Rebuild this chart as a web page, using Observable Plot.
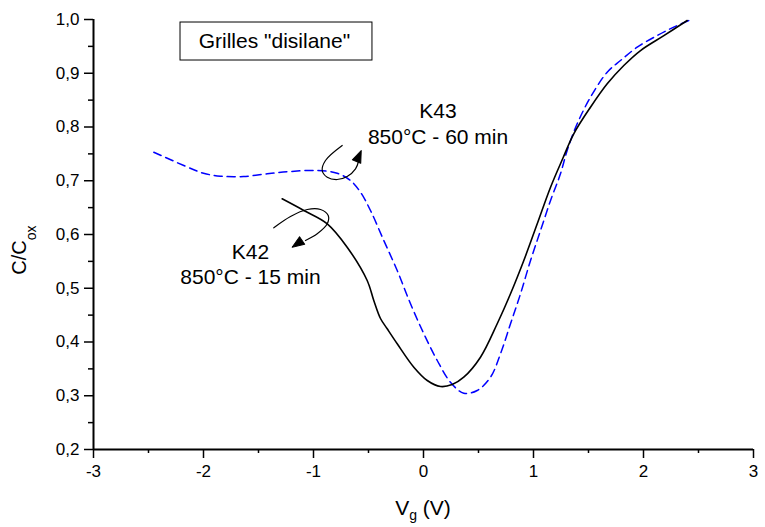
<!DOCTYPE html>
<html><head><meta charset="utf-8">
<script src="https://cdn.jsdelivr.net/npm/d3@7"></script>
<script src="https://cdn.jsdelivr.net/npm/@observablehq/plot@0.6"></script>
<style>body{margin:0;background:#fff;} #chart{width:765px;height:527px;}</style>
</head><body><div id="chart"></div>
<script>
// K42 — 850°C - 15 min (solid black)
const k42Vg = [-1.285,-1.088,-0.875,-0.694,-0.512,-0.452,-0.391,-0.330,-0.239,-0.088,0.034,0.155,0.261,0.366,0.518,0.670,0.791,0.912,1.034,1.155,1.268,1.366,1.518,1.670,1.821,1.973,2.185,2.397];
const k42C  = [0.6664,0.6447,0.6199,0.5764,0.5144,0.4772,0.4437,0.4246,0.3967,0.3531,0.3284,0.3172,0.3209,0.3345,0.3717,0.4339,0.4897,0.5516,0.6199,0.6880,0.7423,0.7874,0.8368,0.8804,0.9144,0.9423,0.9700,0.9981];
// K43 — 850°C - 60 min (dashed blue)
const k43Vg = [-2.452,-2.179,-2.0,-1.845,-1.636,-1.421,-1.209,-0.966,-0.785,-0.664,-0.573,-0.482,-0.361,-0.239,-0.118,0.003,0.125,0.245,0.366,0.488,0.609,0.700,0.791,0.882,0.973,1.064,1.155,1.245,1.306,1.397,1.518,1.670,1.791,1.943,2.125,2.275,2.412];
const k43C  = [0.7531,0.7284,0.7140,0.7085,0.7079,0.7129,0.7172,0.7191,0.7140,0.7005,0.6787,0.6447,0.5888,0.5330,0.4711,0.4153,0.3656,0.3252,0.3047,0.3098,0.3345,0.3781,0.4339,0.4897,0.5516,0.6074,0.6633,0.7129,0.7563,0.8060,0.8554,0.9020,0.9237,0.9485,0.9702,0.9857,0.9981];

const xTicks = [-3,-2,-1,0,1,2,3];
const xMinorTicks = [-2.5,-1.5,-0.5,0.5,1.5,2.5];
const yTicks = [0.2,0.3,0.4,0.5,0.6,0.7,0.8,0.9,1.0];
const yMinorTicks = [0.25,0.35,0.45,0.55,0.65,0.75,0.85,0.95];

// annotations
const labelText = ["K43","850°C - 60 min","K42","850°C - 15 min"];
const labelX = [0.132,0.132,-1.573,-1.573];
const labelY = [0.8298,0.7814,0.5674,0.5209];
const legendText = ['Grilles "disilane"'];
const legendX = [-1.355], legendY = [0.959];
const legendBox = [{x1:-2.209, x2:-0.464, y1:0.9237, y2:0.9944}];
// curly arrows
const arrow43X = [-0.739,-0.891,-0.921,-0.875,-0.785,-0.694,-0.618,-0.588];
const arrow43Y = [0.7656,0.7377,0.7191,0.7066,0.7023,0.7079,0.7222,0.7377];
const arrow42X = [-1.361,-1.209,-1.057,-0.936,-0.866,-0.875,-0.966,-1.073];
const arrow42Y = [0.6125,0.6335,0.6465,0.6465,0.6353,0.6199,0.6013,0.5888];
const tipX = [-0.566,-1.194], tipY = [0.7563,0.5764], tipAngle = [23,236];

const zip = (a,b) => a.map((v,i) => ({x:v, y:b[i]}));
const k42 = zip(k42Vg, k42C), k43 = zip(k43Vg, k43C);
const labels = labelText.map((t,i) => ({t, x:labelX[i], y:labelY[i]}));
const legend = legendText.map((t,i) => ({t, x:legendX[i], y:legendY[i]}));
const tips = tipX.map((x,i) => ({x, y:tipY[i], a:tipAngle[i]}));
const fmtY = d => d.toFixed(1).replace(".", ",");
const head = {draw(context, l) { context.moveTo(0,0); context.lineTo(-l*0.38, l); context.lineTo(l*0.38, l); context.closePath(); }};
const font = "Liberation Sans, Arial, sans-serif";

const chart = Plot.plot({
  width: 765, height: 527,
  marginLeft: 93, marginRight: 12, marginTop: 19, marginBottom: 78,
  x: {domain: [-3, 3]},
  y: {domain: [0.2, 1.0]},
  style: {fontFamily: font, fontSize: "17px", color: "black", background: "white", overflow: "visible"},
  marks: [
    Plot.axisX({ticks: xMinorTicks, tickSize: 4, tickFormat: () => "", strokeWidth: 1.5, label: null}),
    Plot.axisX({ticks: xTicks, tickSize: 9, tickPadding: 6, tickFormat: d => String(d), fontSize: 17, strokeWidth: 1.5, label: null}),
    Plot.axisY({ticks: yMinorTicks, tickSize: 5, tickFormat: () => "", strokeWidth: 1.5, label: null}),
    Plot.axisY({ticks: yTicks, tickSize: 9, tickPadding: 5, tickFormat: fmtY, fontSize: 17, strokeWidth: 1.5, label: null}),
    Plot.ruleX([-3], {strokeWidth: 2}),
    Plot.ruleY([0.2], {strokeWidth: 2}),
    Plot.rect(legendBox, {x1:"x1", x2:"x2", y1:"y1", y2:"y2", fill:"white", stroke:"black", strokeWidth:1}),
    Plot.text(legend, {x:"x", y:"y", text:"t", fontSize: 21}),
    Plot.line(k43, {x:"x", y:"y", stroke:"#0000ff", strokeWidth:1.5, strokeDasharray:"8,5", curve:"catmull-rom"}),
    Plot.line(k42, {x:"x", y:"y", stroke:"black", strokeWidth:1.6, curve:"catmull-rom"}),
    Plot.line(zip(arrow43X, arrow43Y), {x:"x", y:"y", stroke:"black", strokeWidth:1.2, curve:"catmull-rom"}),
    Plot.line(zip(arrow42X, arrow42Y), {x:"x", y:"y", stroke:"black", strokeWidth:1.2, curve:"catmull-rom"}),
    Plot.vector(tips, {x:"x", y:"y", rotate:"a", length: 12, anchor:"start", shape: head, fill:"black", stroke:"black", strokeWidth:1}),
    Plot.text(labels, {x:"x", y:"y", text:"t", fontSize: 21})
  ]
});
document.getElementById("chart").appendChild(chart);

const svg = d3.select(chart);
const yl = svg.append("text").attr("transform", "translate(26,250) rotate(-90)")
  .attr("text-anchor", "middle").attr("font-family", font).attr("font-size", 20).attr("fill", "black");
yl.append("tspan").text("C/C");
yl.append("tspan").attr("font-size", 14).attr("dy", 10).text("ox");
const xl = svg.append("text").attr("transform", "translate(423,515)")
  .attr("text-anchor", "middle").attr("font-family", font).attr("font-size", 21).attr("fill", "black");
xl.append("tspan").text("V");
xl.append("tspan").attr("font-size", 14).attr("dy", 5).text("g");
xl.append("tspan").attr("dy", -5).text(" (V)");
</script>
</body></html>
